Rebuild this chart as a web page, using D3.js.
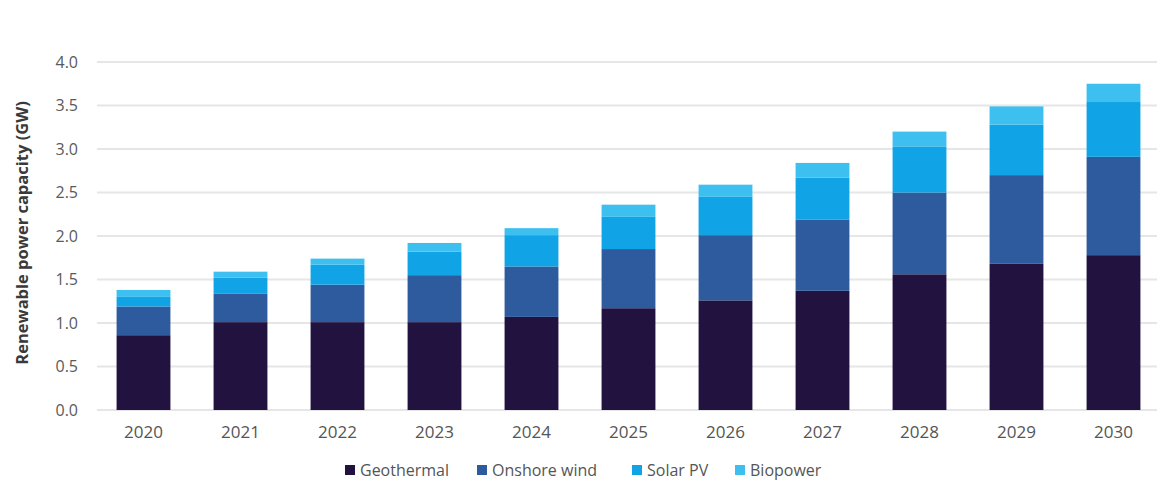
<!DOCTYPE html>
<html>
<head>
<meta charset="utf-8">
<script src="https://cdn.jsdelivr.net/npm/d3@7"></script>
<style>
  html, body { margin: 0; padding: 0; background: #ffffff; }
  svg { display: block; font-family: "Open Sans", "Noto Sans", sans-serif; }
</style>
</head>
<body>
<svg id="chart" width="1157" height="484"></svg>
<script>
const years = ["2020","2021","2022","2023","2024","2025","2026","2027","2028","2029","2030"];
const seriesNames = ["Geothermal", "Onshore wind", "Solar PV", "Biopower"];
const geothermal  = [0.86, 1.01, 1.01, 1.01, 1.07, 1.17, 1.26, 1.37, 1.56, 1.68, 1.78];
const onshoreWind = [0.33, 0.33, 0.43, 0.54, 0.58, 0.68, 0.75, 0.82, 0.94, 1.02, 1.13];
const solarPV     = [0.11, 0.18, 0.23, 0.27, 0.36, 0.37, 0.44, 0.48, 0.53, 0.58, 0.63];
const biopower    = [0.08, 0.07, 0.07, 0.10, 0.08, 0.14, 0.14, 0.17, 0.17, 0.21, 0.21];
const yTicks = [0, 0.5, 1.0, 1.5, 2.0, 2.5, 3.0, 3.5, 4.0];
const yTitle = "Renewable power capacity (GW)";
const colors = ["#22123f", "#2e5b9d", "#10a4e6", "#3dbff0"];

const rows = years.map((yr, i) => ({
  year: yr,
  "Geothermal": geothermal[i],
  "Onshore wind": onshoreWind[i],
  "Solar PV": solarPV[i],
  "Biopower": biopower[i]
}));

const svg = d3.select("#chart");
const mLeft = 95, mRight = 1162, mTop = 62, mBottom = 410;

const x = d3.scaleBand().domain(years).range([mLeft, mRight]).paddingInner(0.445).paddingOuter(0.2225);
const y = d3.scaleLinear().domain([0, 4]).range([mBottom, mTop]);
const color = d3.scaleOrdinal().domain(seriesNames).range(colors);

// gridlines
svg.append("g")
  .selectAll("line")
  .data(yTicks)
  .join("line")
  .attr("x1", 97).attr("x2", 1157)
  .attr("y1", d => y(d)).attr("y2", d => y(d))
  .attr("stroke", "#e6e6e6").attr("stroke-width", 2);

// y axis labels
const yAxis = d3.axisLeft(y).tickValues(yTicks).tickFormat(d3.format(".1f")).tickSize(0).tickPadding(0);
const gy = svg.append("g").attr("transform", `translate(78,0)`).call(yAxis);
gy.select(".domain").remove();
gy.selectAll("text").attr("font-size", 16).attr("fill", "#5a5a5a").attr("font-family", "Open Sans, sans-serif");

// y title
svg.append("text")
  .attr("transform", `translate(22,233) rotate(-90)`)
  .attr("text-anchor", "middle")
  .attr("dy", "0.35em")
  .attr("font-size", 16.5)
  .attr("font-weight", 700)
  .attr("fill", "#3a3a3a")
  .text(yTitle);

// stacked bars
const stacked = d3.stack().keys(seriesNames)(rows);

svg.append("g")
  .selectAll("g")
  .data(stacked)
  .join("g")
  .attr("fill", d => color(d.key))
  .selectAll("rect")
  .data(d => d)
  .join("rect")
  .attr("x", d => x(d.data.year))
  .attr("width", x.bandwidth())
  .attr("y", d => y(d[1]))
  .attr("height", d => y(d[0]) - y(d[1]));

// x axis labels
const xAxis = d3.axisBottom(x).tickSize(0).tickPadding(0);
const gx = svg.append("g").attr("transform", `translate(0,${mBottom + 16})`).call(xAxis);
gx.select(".domain").remove();
gx.selectAll("text").attr("font-size", 17).attr("fill", "#555555").attr("font-family", "Open Sans, sans-serif");

// legend
const legendX = [345, 477, 632, 735];
const legend = svg.append("g")
  .selectAll("g")
  .data(seriesNames)
  .join("g")
  .attr("transform", (d, i) => `translate(${legendX[i]},470)`);
legend.append("rect")
  .attr("x", 0).attr("y", -5).attr("width", 10).attr("height", 10)
  .attr("fill", d => color(d));
legend.append("text")
  .attr("x", 15).attr("y", 0)
  .attr("dy", "0.35em")
  .attr("font-size", 16)
  .attr("fill", "#555555")
  .text(d => d);
</script>
</body>
</html>
